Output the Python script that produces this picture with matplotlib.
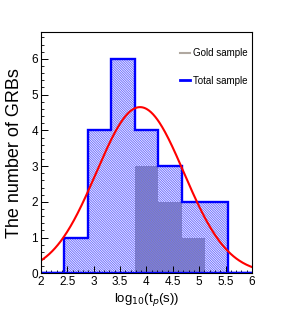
import matplotlib
matplotlib.use('Agg')
import matplotlib.pyplot as plt
import numpy as np

# histogram bins (log10 tp), 9 bins from 2 to 6
bin_edges = np.linspace(2, 6, 10)
total_counts = [0, 1, 4, 6, 4, 3, 2, 2, 0]
gold_counts = [0, 0, 0, 0, 3, 2, 1, 0, 0]

# gaussian fit to total sample
fit_amp = 4.65
fit_mean = 3.88
fit_sigma = 0.83

x_ticks = [2, 2.5, 3, 3.5, 4, 4.5, 5, 5.5, 6]
x_ticklabels = ['2', '2.5', '3', '3.5', '4', '4.5', '5', '5.5', '6']
y_ticks = [0, 1, 2, 3, 4, 5, 6]

plt.rcParams['font.family'] = 'Liberation Sans'
plt.rcParams['hatch.linewidth'] = 0.7
plt.rcParams['hatch.color'] = '#7070ff'

fig = plt.figure(figsize=(2.84, 3.27), dpi=100)
ax = fig.add_axes([0.144, 0.164, 0.743, 0.738])

# gold sample: grey fill
ax.stairs(gold_counts, bin_edges, fill=True, facecolor='#8a8a8a',
          linewidth=0)
# total sample: hatched overlay + blue outline
ax.stairs(total_counts, bin_edges, fill=True, facecolor='none',
          edgecolor='#7070ff', hatch='\\' * 14, linewidth=0)
ax.stairs(total_counts, bin_edges, color='#0000ff', linewidth=1.7,
          baseline=None)
ax.plot([bin_edges[0], bin_edges[-1]], [0, 0], color='#0000ff', lw=1.7)

xf = np.linspace(2, 6, 300)
yf = fit_amp * np.exp(-(xf - fit_mean) ** 2 / (2 * fit_sigma ** 2))
ax.plot(xf, yf, color='#ff0000', lw=1.5)

ax.set_xlim(2, 6)
ax.set_ylim(0, 6.75)
ax.set_xticks(x_ticks)
ax.set_xticklabels(x_ticklabels)
ax.set_yticks(y_ticks)
ax.set_xticks(np.arange(2, 6.01, 0.1), minor=True)
ax.set_yticks(np.arange(0, 6.75, 0.2), minor=True)
ax.tick_params(direction='in', labelsize=8.5, length=5, width=0.7, pad=2)
ax.tick_params(which='minor', direction='in', length=2.5, width=0.6)
for s in ax.spines.values():
    s.set_linewidth(0.8)

ax.set_ylabel('The number of GRBs', fontsize=13, labelpad=6)
ax.set_xlabel(r'log$_{10}$(t$_p$(s))', fontsize=9.5, labelpad=2)

h1, = ax.plot([], [], color='#b0a8a0', lw=1.5)
h2, = ax.plot([], [], color='#0000ff', lw=2)
ax.legend([h1, h2], ['Gold sample', 'Total sample'], loc='upper right',
          frameon=False, fontsize=7, handlelength=1.0, handletextpad=0.3,
          labelspacing=1.8, bbox_to_anchor=(1.02, 0.97))

fig.savefig('out.png', dpi=100)
